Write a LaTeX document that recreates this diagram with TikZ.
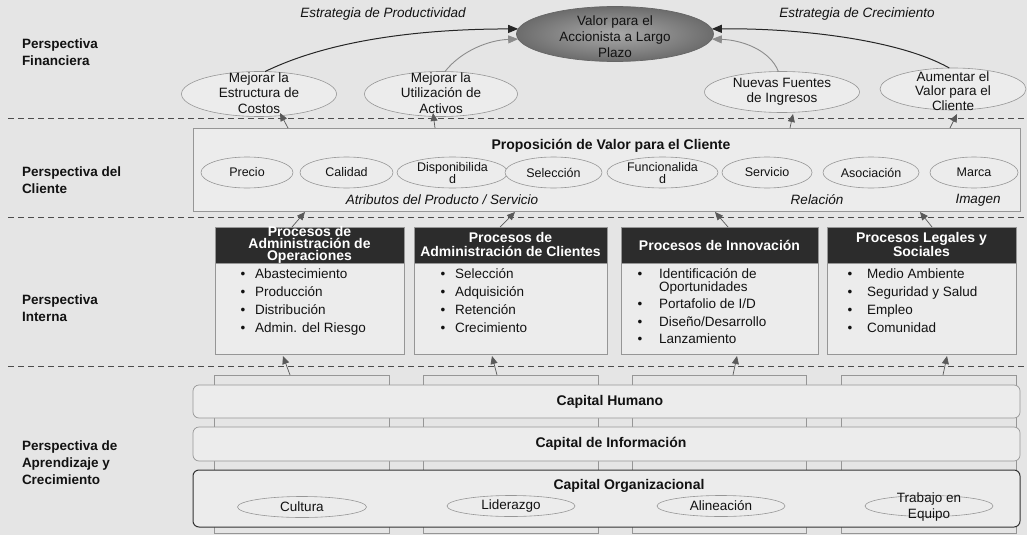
\documentclass[tikz,border=0pt]{standalone}
\usepackage{fontspec}
\setmainfont{Liberation Sans}
\usetikzlibrary{arrows.meta,shapes.geometric}
\definecolor{paper}{RGB}{229,229,229}
\definecolor{panel}{RGB}{236,236,236}
\definecolor{headbar}{RGB}{44,44,44}
\definecolor{rim}{RGB}{150,150,150}
\definecolor{ink}{RGB}{18,18,18}
\definecolor{valin}{RGB}{170,170,170}
\definecolor{valout}{RGB}{108,108,108}

\begin{document}
\begin{tikzpicture}[x=1pt,y=-1pt,
  every node/.style={inner sep=0pt, outer sep=0pt, text=ink},
  persp/.style={anchor=west, align=left, font=\fontsize{13.5}{17}\selectfont\bfseries},
  oval/.style={ellipse, draw=rim, line width=0.6pt, fill=panel},
  ovaltext/.style={align=center, font=\fontsize{13.5}{15.5}\selectfont},
  attr/.style={align=center, font=\fontsize{12.5}{12.5}\selectfont},
  theme/.style={font=\fontsize{13.5}{16}\selectfont\itshape},
  panelbox/.style={draw=rim, line width=0.7pt, fill=panel},
  headbox/.style={draw=rim, line width=0.7pt, fill=headbar},
  headtext/.style={align=center, text=white, font=\fontsize{14}{12}\selectfont\bfseries},
  item/.style={anchor=base west, font=\fontsize{13.5}{16}\selectfont},
  bul/.style={anchor=base, font=\fontsize{13.5}{16}\selectfont},
  pillar/.style={draw=rim, line width=0.6pt, fill=paper},
  bar/.style={draw=rim, line width=0.7pt, fill=panel, rounded corners=6pt},
  bartext/.style={font=\fontsize{14}{16}\selectfont\bfseries},
  sep/.style={draw=black!70, line width=0.9pt, dash pattern=on 6pt off 4pt},
  up/.style={draw=black!65, line width=0.7pt, -{Triangle[length=8pt,width=7pt]}},
  bigk/.style={draw=black!85, line width=1pt, -{Triangle[length=10pt,width=8pt]}},
  bigg/.style={draw=black!45, line width=0.9pt, -{Triangle[length=10pt,width=8pt]}},
]
% page
\path[use as bounding box, fill=paper] (0,0) rectangle (1027,535);

% layer separators
\draw[sep] (8,118) -- (1027,118);
\draw[sep] (8,217) -- (1027,217);
\draw[sep] (8,366) -- (1027,366);

% perspective labels
\node[persp] (pfin) at (22,52) {Perspectiva\\Financiera};
\node[persp] (pcli) at (22,180) {Perspectiva del\\Cliente};
\node[persp] (pint) at (22,308) {Perspectiva\\Interna};
\node[persp] (papr) at (22,463) {Perspectiva de\\Aprendizaje y\\Crecimiento};

% ---------- financial layer ----------
\node[theme] (tprod) at (383,14) {Estrategia de Productividad};
\node[theme] (tcrec) at (857,14) {Estrategia de Crecimiento};

\node[ellipse, minimum width=197pt, minimum height=55pt, draw=black!60,
      line width=0.7pt, inner color=valin, outer color=valout] (valor) at (615,34) {};
\node[ovaltext, font=\fontsize{13.5}{16}\selectfont] (valort) at (615,37)
  {Valor para el\\Accionista a Largo\\Plazo};

\node[oval, minimum width=155pt, minimum height=45pt] (costos) at (259,94) {};
\node[ovaltext] (costost) at (259,93) {Mejorar la\\Estructura de\\Costos};
\node[oval, minimum width=153pt, minimum height=45pt] (activos) at (441,94) {};
\node[ovaltext] (activost) at (441,93) {Mejorar la\\Utilización de\\Activos};
\node[oval, minimum width=155pt, minimum height=41pt] (fuentes) at (782,92) {};
\node[ovaltext, font=\fontsize{13.5}{15}\selectfont] (fuentest) at (782,92) {Nuevas Fuentes\\de Ingresos};
\node[oval, minimum width=146pt, minimum height=42pt] (aumentar) at (953,89) {};
\node[ovaltext, font=\fontsize{13.5}{14.5}\selectfont] (aumentart) at (953,91) {Aumentar el\\Valor para el\\Cliente};

\draw[bigk] (costos.75) .. controls (330,40) and (420,29) .. (valor.177);
\draw[bigg] (activos.80) .. controls (462,50) and (490,40) .. (valor.-177);
\draw[bigg] (fuentes.100) .. controls (770,50) and (742,40) .. (valor.-3);
\draw[bigk] (aumentar.100) .. controls (900,40) and (800,28) .. (valor.3);

% ---------- customer layer ----------
\node[panelbox, minimum width=827pt, minimum height=83pt] (cust) at (606.5,169.5) {};
\node[font=\fontsize{14}{16}\selectfont\bfseries] (custt) at (611,146) {Proposición de Valor para el Cliente};

\node[oval, minimum width=92pt,  minimum height=31pt] (precio) at (247,172.5) {};
\node[attr] (preciot) at (247,172.5) {Precio};
\node[oval, minimum width=93pt,  minimum height=31pt] (calidad) at (346.5,172.5) {};
\node[attr] (calidadt) at (346.5,172.5) {Calidad};
\node[oval, minimum width=111pt, minimum height=31pt] (dispo) at (452.5,172.5) {};
\node[attr] (dispot) at (452.5,173) {Disponibilida\\d};
\node[oval, minimum width=97pt,  minimum height=31pt] (selec) at (553.5,172.5) {};
\node[attr] (select) at (553.5,172.5) {Selección};
\node[oval, minimum width=111pt, minimum height=31pt] (funci) at (662.5,172.5) {};
\node[attr] (funcit) at (662.5,173) {Funcionalida\\d};
\node[oval, minimum width=90pt,  minimum height=31pt] (servi) at (767,172.5) {};
\node[attr] (servit) at (767,172.5) {Servicio};
\node[oval, minimum width=96pt,  minimum height=31pt] (asoc) at (871,172.5) {};
\node[attr] (asoct) at (871,172.5) {Asociación};
\node[oval, minimum width=88pt,  minimum height=31pt] (marca) at (974,172.5) {};
\node[attr] (marcat) at (974,172.5) {Marca};

\node[theme] (tattr) at (442,200) {Atributos del Producto / Servicio};
\node[theme] (trel) at (817,200) {Relación};
\node[theme] (timg) at (978,200) {Imagen};

% customer -> financial
\coordinate (cf1) at (288,128); \coordinate (fc1) at (280,113);
\coordinate (cf2) at (435,128); \coordinate (fc2) at (433,113);
\coordinate (cf3) at (790,128); \coordinate (fc3) at (793,114);
\coordinate (cf4) at (950,128); \coordinate (fc4) at (957,114);
\draw[up] (cf1) -- (fc1);
\draw[up] (cf2) -- (fc2);
\draw[up] (cf3) -- (fc3);
\draw[up] (cf4) -- (fc4);

% ---------- internal layer ----------
\node[panelbox, minimum width=189pt, minimum height=127pt] (ops) at (309.5,290.5) {};
\node[headbox, minimum width=189pt, minimum height=36pt] (opsh) at (309.5,245) {};
\node[headtext] (opst) at (309.5,245) {Procesos de\\Administración de\\Operaciones};

\node[panelbox, minimum width=193pt, minimum height=127pt] (cli) at (510.5,290.5) {};
\node[headbox, minimum width=193pt, minimum height=36pt] (clih) at (510.5,245) {};
\node[headtext, font=\fontsize{14}{14}\selectfont\bfseries] (clit) at (510.5,244.5) {Procesos de\\Administración de Clientes};

\node[panelbox, minimum width=197pt, minimum height=127pt] (inno) at (719.5,290.5) {};
\node[headbox, minimum width=197pt, minimum height=36pt] (innoh) at (719.5,245) {};
\node[headtext] (innot) at (719.5,245) {Procesos de Innovación};

\node[panelbox, minimum width=189pt, minimum height=127pt] (legal) at (921.5,290.5) {};
\node[headbox, minimum width=189pt, minimum height=36pt] (legalh) at (921.5,245) {};
\node[headtext, font=\fontsize{14}{13.5}\selectfont\bfseries] (legalt) at (921.5,244.5) {Procesos Legales y\\Sociales};

\foreach \txt [count=\i] in {Abastecimiento, Producción, Distribución, Admin. del Riesgo} {
  \node[bul] (opsb\i) at (243,260+18*\i) {•};
  \node[item] (opsi\i) at (255,260+18*\i) {\txt};
}
\foreach \txt [count=\i] in {Selección, Adquisición, Retención, Crecimiento} {
  \node[bul] (clib\i) at (443,260+18*\i) {•};
  \node[item] (clii\i) at (455,260+18*\i) {\txt};
}
\node[bul] (innob1) at (640,278) {•};
\node[item] (innoi1) at (659,278) {Identificación de};
\node[item] (innoi1b) at (659,291) {Oportunidades};
\node[bul] (innob2) at (640,308) {•};
\node[item] (innoi2) at (659,308) {Portafolio de I/D};
\node[bul] (innob3) at (640,326) {•};
\node[item] (innoi3) at (659,326) {Diseño/Desarrollo};
\node[bul] (innob4) at (640,343) {•};
\node[item] (innoi4) at (659,343) {Lanzamiento};
\foreach \txt [count=\i] in {Medio Ambiente, Seguridad y Salud, Empleo, Comunidad} {
  \node[bul] (legb\i) at (850,260+18*\i) {•};
  \node[item] (legi\i) at (867,260+18*\i) {\txt};
}

% internal -> customer
\coordinate (ic1) at (292,227); \coordinate (ci1) at (305,212);
\coordinate (ic2) at (500,227); \coordinate (ci2) at (515,212);
\coordinate (ic3) at (728,227); \coordinate (ci3) at (715,212);
\coordinate (ic4) at (932,227); \coordinate (ci4) at (920,212);
\draw[up] (ic1) -- (ci1);
\draw[up] (ic2) -- (ci2);
\draw[up] (ic3) -- (ci3);
\draw[up] (ic4) -- (ci4);

% ---------- learning and growth layer ----------
\node[pillar, minimum width=175pt, minimum height=158pt] (col1) at (301.5,454) {};
\node[pillar, minimum width=175pt, minimum height=158pt] (col2) at (510.5,454) {};
\node[pillar, minimum width=174pt, minimum height=158pt] (col3) at (719,454) {};
\node[pillar, minimum width=175pt, minimum height=158pt] (col4) at (928.5,454) {};

\node[bar, minimum width=827pt, minimum height=33pt] (humano) at (606.5,401.5) {};
\node[bartext] (humanot) at (610,402) {Capital Humano};
\node[bar, minimum width=827pt, minimum height=34pt] (info) at (606.5,444) {};
\node[bartext] (infot) at (611,443.5) {Capital de Información};
\node[bar, draw=black!80, line width=1pt, minimum width=827pt, minimum height=57pt] (orga) at (606.5,498.5) {};
\node[bartext] (orgat) at (629,486) {Capital Organizacional};

\node[oval, minimum width=129pt, minimum height=21pt] (cult) at (302,507) {};
\node[ovaltext] (cultt) at (302,507) {Cultura};
\node[oval, minimum width=128pt, minimum height=21pt] (lider) at (511,506) {};
\node[ovaltext] (lidert) at (511,506) {Liderazgo};
\node[oval, minimum width=128pt, minimum height=21pt] (alin) at (721,506) {};
\node[ovaltext] (alint) at (721,506) {Alineación};
\node[oval, minimum width=128pt, minimum height=21pt] (equipo) at (929,506) {};
\node[ovaltext, font=\fontsize{13.5}{16}\selectfont] (equipot) at (929,507) {Trabajo en\\Equipo};

% learning -> internal
\coordinate (li1) at (290,375); \coordinate (il1) at (283,356);
\coordinate (li2) at (497,375); \coordinate (il2) at (492,356);
\coordinate (li3) at (733,375); \coordinate (il3) at (737,356);
\coordinate (li4) at (943,375); \coordinate (il4) at (947,356);
\draw[up] (li1) -- (il1);
\draw[up] (li2) -- (il2);
\draw[up] (li3) -- (il3);
\draw[up] (li4) -- (il4);
\end{tikzpicture}
\end{document}
